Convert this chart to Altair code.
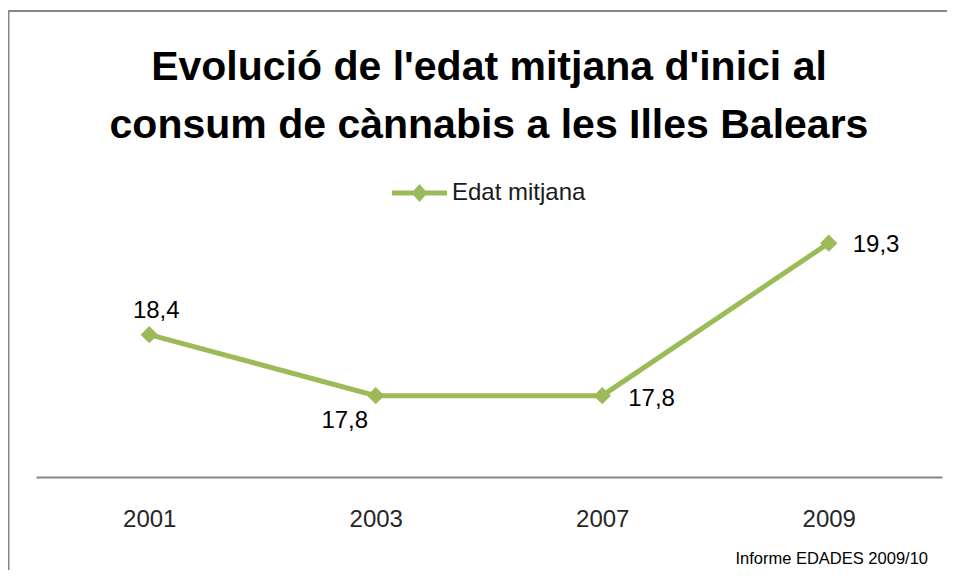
import altair as alt
import pandas as pd

# ---- data ----
anys = ["2001", "2003", "2007", "2009"]
edat_mitjana = [18.4, 17.8, 17.8, 19.3]
serie = ["Edat mitjana"] * len(anys)
titol = ["Evolució de l'edat mitjana d'inici al",
         "consum de cànnabis a les Illes Balears"]
font_text = ["Informe EDADES 2009/10"]

df = pd.DataFrame({"any": anys, "edat": edat_mitjana, "serie": serie})
df_font = pd.DataFrame({"t": font_text})
df_one = pd.DataFrame({"k": [0]})

GREEN = "#9BBB59"
GRAY = "#868686"
FONT = "Liberation Sans"

x = alt.X(
    "any:O",
    scale=alt.Scale(type="point", padding=0.5),
    axis=alt.Axis(
        title=None, labelAngle=0, ticks=False, grid=False,
        domainColor=GRAY, domainWidth=2,
        labelFont=FONT, labelFontSize=24, labelColor="#262626",
        labelPadding=49, labelBaseline="alphabetic",
    ),
)
y = alt.Y("edat:Q", scale=alt.Scale(domain=[17, 20], zero=False, nice=False), axis=None)

base = alt.Chart(df).encode(x=x, y=y).transform_calculate(
    lbl="replace(format(datum.edat, '.1f'), '.', ',')"
)

line = base.mark_line(color=GREEN, strokeWidth=5)

legend_path = ("M-1,-0.09L-0.211,-0.09L0,-0.33L0.211,-0.09L1,-0.09L1,0.09"
               "L0.211,0.09L0,0.33L-0.211,0.09L-1,0.09Z")
pts = base.mark_point(shape="diamond", filled=True, size=300, opacity=1).encode(
    color=alt.Color(
        "serie:N",
        scale=alt.Scale(range=[GREEN]),
        legend=alt.Legend(
            title=None, orient="none", legendX=356, legendY=-6.5,
            symbolType=legend_path, symbolSize=3025, symbolOpacity=1,
            symbolStrokeWidth=0, symbolFillColor=GREEN,
            labelFont=FONT, labelFontSize=24, labelColor="#1a1a1a",
            labelOffset=5, padding=0,
        ),
    )
)

txt_style = dict(font=FONT, fontSize=24, color="black", baseline="alphabetic")
lab01 = base.transform_filter("datum.any == '2001'").mark_text(
    align="center", dx=7, dy=-17, **txt_style).encode(text="lbl:N")
lab03 = base.transform_filter("datum.any == '2003'").mark_text(
    align="center", dx=-31, dy=32, **txt_style).encode(text="lbl:N")
lab07 = base.transform_filter("datum.any == '2007'").mark_text(
    align="left", dx=26, dy=10, **txt_style).encode(text="lbl:N")
lab09 = base.transform_filter("datum.any == '2009'").mark_text(
    align="left", dx=24, dy=9, **txt_style).encode(text="lbl:N")

title = alt.Chart(df_one).mark_text(
    font=FONT, fontSize=41, fontWeight="bold", color="black",
    align="center", baseline="alphabetic", lineHeight=58,
).encode(x=alt.value(453), y=alt.value(-92), text=alt.value(titol))

source = alt.Chart(df_font).mark_text(
    font=FONT, fontSize=16.5, color="black",
    align="right", baseline="alphabetic",
).encode(x=alt.value(892), y=alt.value(392), text="t:N")

frame_top = alt.Chart(df_one).mark_rule(color=GRAY, strokeWidth=2).encode(
    x=alt.value(-28), x2=alt.value(911), y=alt.value(-161))
frame_left = alt.Chart(df_one).mark_rule(color=GRAY, strokeWidth=2).encode(
    x=alt.value(-27.5), y=alt.value(-162), y2=alt.value(398))

chart = alt.layer(
    frame_top, frame_left, title, line, pts, lab01, lab03, lab07, lab09, source
).properties(
    width=906, height=305,
    autosize=alt.AutoSizeParams(type="none"),
    padding={"left": 28, "top": 164, "right": 5, "bottom": 93},
).configure(background="white").configure_view(strokeWidth=0, stroke="transparent")

chart.save("out.html", embed_options={"renderer": "svg", "actions": False})
